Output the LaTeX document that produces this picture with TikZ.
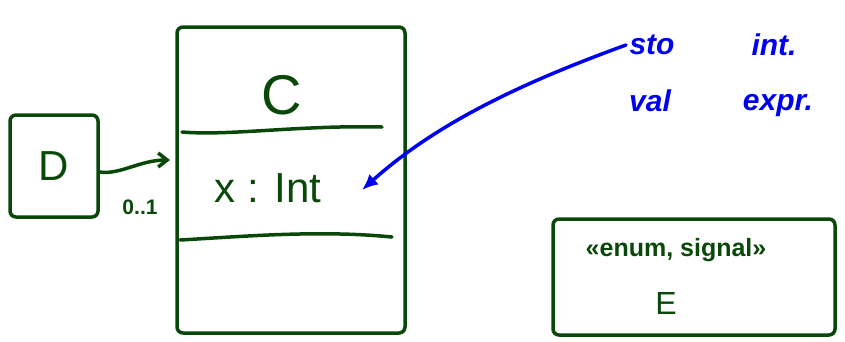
\documentclass[tikz,border=0pt]{standalone}
\usepackage{fontspec}
\setmainfont{Liberation Sans}
\usetikzlibrary{arrows.meta}
\definecolor{pen}{RGB}{10,72,10}
\definecolor{bluepen}{RGB}{0,0,240}
\begin{document}
\begin{tikzpicture}[x=1pt,y=-1pt,
  box/.style={draw=pen,line width=3.5pt,rounded corners=6pt,inner sep=0pt},
  ink/.style={text=pen},
  bink/.style={text=bluepen,font=\itshape\bfseries\fontsize{30}{30}\selectfont},
  rule/.style={draw=pen,line width=3.5pt,line cap=round}]
\useasboundingbox (0,0) rectangle (845,341);
% D box
\node[box,minimum width=88pt,minimum height=102pt] (D) at (54,166) {};
\node[ink,font=\fontsize{42}{42}\selectfont] (Dl) at (D) {D};
% C box
\node[box,minimum width=228pt,minimum height=306pt] (C) at (291,180) {};
\node[ink,font=\fontsize{56}{56}\selectfont] (Cl) at (282,95) {C};
\coordinate (c1l) at (182,132); \coordinate (c1r) at (382,127);
\coordinate (c2l) at (180,240); \coordinate (c2r) at (392,237);
\draw[rule] (c1l) .. controls (230,136) and (300,125) .. (c1r);
\draw[rule] (c2l) .. controls (250,236) and (320,230) .. (c2r);
\node[ink,font=\fontsize{42}{42}\selectfont] (attr) at (268,188) {x : Int};
% association D -> C
\coordinate (aend) at (170,160);
\draw[draw=pen,line width=3.5pt,-{Straight Barb[length=9pt,width=14pt]}] (D.east |- 0,172) .. controls (120,175) and (140,160) .. (aend);
\node[ink,font=\bfseries\fontsize{21}{21}\selectfont] (mult) at (140,207) {0..1};
% E box
\node[box,minimum width=282pt,minimum height=116pt] (E) at (694,277) {};
\node[ink,font=\bfseries\fontsize{25}{25}\selectfont] (Est) at (676,250) {«enum, signal»};
\node[ink,font=\fontsize{32}{32}\selectfont] (El) at (666,303) {E};
% blue note
\node[bink] (n1) at (652,45) {sto};
\node[bink] (n2) at (774,45) {int.};
\node[bink] (n3) at (650,101) {val};
\node[bink] (n4) at (778,106) {expr.};
\coordinate (btip) at (362,190);
\draw[draw=bluepen,line width=3.5pt,line cap=round,-{Latex[length=16pt,width=14pt]}] (n1.west) .. controls (530,80) and (440,120) .. (btip);
\end{tikzpicture}
\end{document}
